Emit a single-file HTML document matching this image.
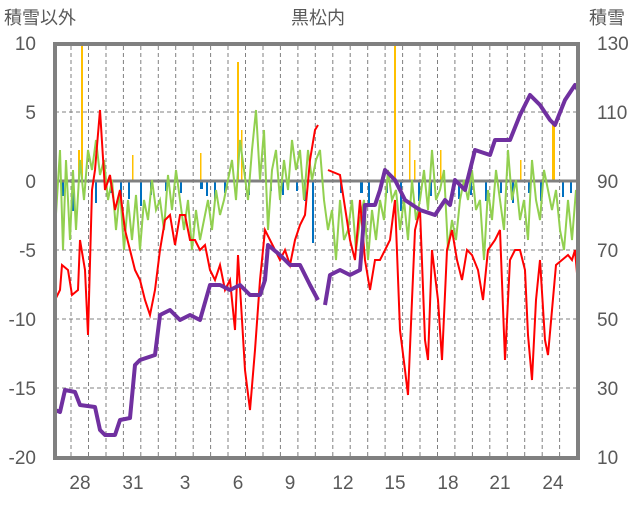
<!DOCTYPE html>
<html><head><meta charset="utf-8"><style>
body{margin:0;background:#fff;}
svg text{font-family:"Liberation Sans","Noto Sans CJK JP",sans-serif;fill:#595959;}
</style></head><body>
<svg width="636" height="501" viewBox="0 0 636 501" xmlns="http://www.w3.org/2000/svg">
<rect width="636" height="501" fill="#fff"/>
<g stroke="#808080" stroke-width="1" stroke-dasharray="4,3">
<line x1="55" y1="112" x2="578" y2="112"/><line x1="55" y1="250" x2="578" y2="250"/>
<line x1="55" y1="319" x2="578" y2="319"/><line x1="55" y1="388" x2="578" y2="388"/>
<line x1="71" y1="46" x2="71" y2="457"/><line x1="88.5" y1="46" x2="88.5" y2="457"/>
<line x1="106" y1="46" x2="106" y2="457"/><line x1="123.4" y1="46" x2="123.4" y2="457"/>
<line x1="140.8" y1="46" x2="140.8" y2="457"/><line x1="158.3" y1="46" x2="158.3" y2="457"/>
<line x1="175.7" y1="46" x2="175.7" y2="457"/><line x1="193.2" y1="46" x2="193.2" y2="457"/>
<line x1="210.6" y1="46" x2="210.6" y2="457"/><line x1="228" y1="46" x2="228" y2="457"/>
<line x1="245.5" y1="46" x2="245.5" y2="457"/><line x1="263" y1="46" x2="263" y2="457"/>
<line x1="280.4" y1="46" x2="280.4" y2="457"/><line x1="297.9" y1="46" x2="297.9" y2="457"/>
<line x1="315.3" y1="46" x2="315.3" y2="457"/><line x1="332.8" y1="46" x2="332.8" y2="457"/>
<line x1="350.2" y1="46" x2="350.2" y2="457"/><line x1="367.7" y1="46" x2="367.7" y2="457"/>
<line x1="385.1" y1="46" x2="385.1" y2="457"/><line x1="402.6" y1="46" x2="402.6" y2="457"/>
<line x1="420" y1="46" x2="420" y2="457"/><line x1="437.5" y1="46" x2="437.5" y2="457"/>
<line x1="454.9" y1="46" x2="454.9" y2="457"/><line x1="472.4" y1="46" x2="472.4" y2="457"/>
<line x1="489.8" y1="46" x2="489.8" y2="457"/><line x1="507.3" y1="46" x2="507.3" y2="457"/>
<line x1="524.7" y1="46" x2="524.7" y2="457"/><line x1="542.2" y1="46" x2="542.2" y2="457"/>
<line x1="559.6" y1="46" x2="559.6" y2="457"/>
</g>
<g fill="#FFC000">
<rect x="81" y="46" width="2" height="135"/><rect x="78" y="150" width="2" height="31"/>
<rect x="132" y="155" width="1.5" height="26"/><rect x="200" y="153" width="1.5" height="28"/>
<rect x="237" y="62" width="2" height="119"/><rect x="241" y="130" width="1.5" height="51"/>
<rect x="394" y="46" width="2" height="135"/><rect x="409" y="140" width="1.5" height="41"/>
<rect x="414" y="160" width="1.5" height="21"/><rect x="552" y="125" width="3" height="56"/>
<rect x="440" y="150" width="1.5" height="31"/><rect x="520" y="160" width="1.5" height="21"/>
</g>
<g fill="#0070C0">
<rect x="62" y="181" width="2" height="15"/><rect x="72" y="181" width="2" height="30"/>
<rect x="95" y="181" width="2" height="22"/><rect x="110" y="181" width="2" height="12"/>
<rect x="120" y="181" width="2" height="20"/><rect x="128" y="181" width="2" height="18"/>
<rect x="140" y="181" width="2" height="25"/><rect x="150" y="181" width="2" height="14"/>
<rect x="165" y="181" width="2" height="10"/><rect x="180" y="181" width="2" height="12"/>
<rect x="200" y="181" width="3" height="8"/><rect x="206" y="181" width="2" height="15"/>
<rect x="214" y="181" width="2" height="20"/><rect x="224" y="181" width="2" height="12"/>
<rect x="248" y="181" width="2" height="14"/><rect x="270" y="181" width="2" height="10"/>
<rect x="282" y="181" width="2" height="14"/><rect x="296" y="181" width="2" height="10"/>
<rect x="304" y="181" width="2" height="20"/><rect x="312" y="181" width="2" height="62"/>
<rect x="340" y="181" width="2" height="12"/><rect x="360" y="181" width="3" height="12"/>
<rect x="368" y="181" width="2" height="25"/><rect x="386" y="181" width="2" height="12"/>
<rect x="400" y="181" width="2" height="30"/><rect x="418" y="181" width="2" height="20"/>
<rect x="430" y="181" width="2" height="15"/><rect x="458" y="181" width="2" height="18"/>
<rect x="470" y="181" width="2" height="14"/><rect x="485" y="181" width="2" height="20"/>
<rect x="500" y="181" width="2" height="12"/><rect x="512" y="181" width="2" height="22"/>
<rect x="528" y="181" width="2" height="12"/><rect x="540" y="181" width="2" height="20"/>
<rect x="562" y="181" width="2" height="16"/><rect x="570" y="181" width="2" height="12"/>
</g>
<line x1="55" y1="181" x2="578" y2="181" stroke="#808080" stroke-width="3"/>
<polyline fill="none" stroke="#92D050" stroke-width="2" points="55,230 60,150 63,250 66,160 70,240 73,170 76,230 80,160 84,200 88,150 92,170 96,140 100,175 104,160 108,200 112,180 116,230 120,190 124,250 128,200 132,240 136,195 140,250 144,200 148,220 152,180 156,210 160,200 164,230 168,175 172,210 176,170 180,200 184,230 188,200 192,250 196,210 200,240 204,220 208,200 212,230 216,190 220,215 224,200 228,180 232,160 236,200 240,140 244,170 248,200 252,150 256,110 260,180 264,130 268,230 272,170 276,150 280,200 284,160 288,190 292,140 296,170 300,150 304,200 308,150 312,180 316,160 320,150 324,200 328,230 332,210 336,260 340,200 344,240 348,230 352,200 356,250 360,220 364,200 368,260 372,210 376,240 380,200 384,220 388,170 392,200 396,190 400,230 404,200 408,240 412,180 416,220 420,200 424,170 428,210 432,150 436,200 440,190 444,170 448,250 452,220 456,240 460,200 464,180 468,200 472,170 476,210 480,200 484,260 488,190 492,220 496,170 500,200 504,230 508,150 512,200 516,180 520,220 524,200 528,240 532,160 536,200 540,220 544,170 548,190 552,210 556,190 560,230 564,250 568,200 572,240 576,190 578,210"/>
<polyline fill="none" stroke="#FF0000" stroke-width="2" points="55,300 60,290 62,265 68,270 72,295 78,290 80,240 85,270 88,335 92,190 95,170 100,110 105,190 110,175 115,210 120,190 125,230 130,250 135,270 140,280 145,300 150,315 155,290 160,250 165,220 170,215 175,245 180,215 185,215 190,240 195,240 200,250 205,245 210,270 215,280 220,265 225,290 230,280 235,330 238,255 242,320 245,370 250,410 255,350 260,280 265,230 270,240 275,250 280,260 285,250 290,265 295,240 300,225 305,215 310,160 315,130 318,125"/>
<polyline fill="none" stroke="#FF0000" stroke-width="2" points="328,170 340,175 350,240 355,260 360,200 365,260 370,290 375,260 380,260 385,250 390,240 395,200 400,330 405,370 408,395 412,300 415,230 420,210 425,340 428,360 432,250 438,300 442,360 447,250 452,230 457,260 462,280 467,250 472,255 478,270 483,300 488,250 495,240 500,230 505,360 510,260 515,250 520,250 525,270 528,335 532,380 536,300 540,260 545,340 548,355 552,310 556,265 562,260 568,255 572,260 575,250 578,285"/>
<polyline fill="none" stroke="#7030A0" stroke-width="4" stroke-linejoin="round" points="55,410 60,412 65,390 75,392 80,405 95,407 100,430 105,435 115,435 120,420 130,418 135,365 140,360 155,355 160,315 170,310 180,320 190,315 200,320 210,285 220,285 230,290 240,285 250,295 260,295 265,280 268,245 280,255 290,265 300,265 310,285 318,300"/>
<polyline fill="none" stroke="#7030A0" stroke-width="4" stroke-linejoin="round" points="325,305 330,275 340,270 350,275 360,270 365,205 375,205 380,190 385,170 395,180 405,200 420,210 435,215 445,200 450,205 455,180 465,190 475,150 490,155 495,140 510,140 520,115 530,95 540,105 550,120 555,125 565,100 575,85 578,90"/>
<rect x="55" y="44" width="523" height="414" fill="none" stroke="#808080" stroke-width="4"/>
<g font-size="19" text-anchor="end">
<text x="36" y="50">10</text><text x="36" y="119">5</text><text x="36" y="188">0</text>
<text x="36" y="257">-5</text><text x="36" y="326">-10</text><text x="36" y="395">-15</text><text x="36" y="464">-20</text>
</g>
<g font-size="19" text-anchor="start">
<text x="597" y="50">130</text><text x="597" y="119">110</text><text x="597" y="188">90</text>
<text x="597" y="257">70</text><text x="597" y="326">50</text><text x="597" y="395">30</text><text x="597" y="464">10</text>
</g>
<g font-size="19" text-anchor="middle">
<text x="80" y="489">28</text><text x="133" y="489">31</text><text x="185" y="489">3</text>
<text x="238" y="489">6</text><text x="290" y="489">9</text><text x="343" y="489">12</text>
<text x="395" y="489">15</text><text x="448" y="489">18</text><text x="500" y="489">21</text><text x="553" y="489">24</text>
</g>
<text x="4" y="24" font-size="18">積雪以外</text>
<text x="318" y="24" font-size="18" text-anchor="middle">黒松内</text>
<text x="589" y="24" font-size="18">積雪</text>
</svg>
</body></html>
